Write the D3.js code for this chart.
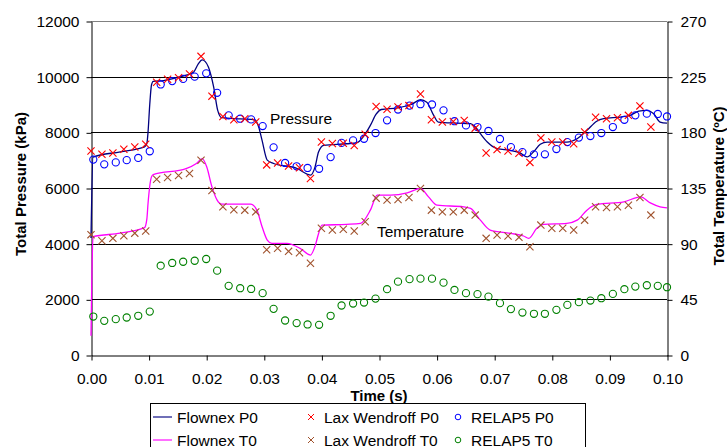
<!DOCTYPE html>
<html>
<head>
<meta charset="utf-8">
<script src="https://cdn.jsdelivr.net/npm/d3@7"></script>
<style>
  html, body { margin: 0; padding: 0; background: #fff; }
  svg { display: block; font-family: "Liberation Sans", Arial, sans-serif; }
</style>
</head>
<body>
<svg id="chart" width="727" height="447"></svg>
<script>
// ---- data ----------------------------------------------------------------
// Flownex solution (continuous curves)
const flownexP0Time = [0, 0.00035, 0.0051, 0.0093, 0.0097, 0.0099, 0.0102, 0.0105, 0.0108, 0.0126, 0.0155, 0.0178, 0.0186,
  0.0193, 0.0198, 0.0204, 0.0213, 0.0220, 0.0227, 0.0259, 0.0285, 0.0291, 0.0297, 0.0306, 0.0317, 0.0358,
  0.0375, 0.0381, 0.0389, 0.0395, 0.0404, 0.0444, 0.0462, 0.0473, 0.0485, 0.0495, 0.0504, 0.0532, 0.0556,
  0.0572, 0.0583, 0.0595, 0.0603, 0.0635, 0.0659, 0.0667, 0.0676, 0.0688, 0.0705, 0.0728, 0.0745, 0.0757,
  0.0768, 0.0780, 0.0792, 0.0826, 0.0844, 0.0861, 0.0878, 0.0890, 0.0919, 0.0936, 0.0951, 0.0965, 0.0977,
  0.0988, 0.1000];
const flownexP0 = [4200, 7110, 7300, 7480, 7600, 8000, 9000, 9700, 9830, 9860, 10000, 10160, 10450,
  10600, 10550, 10340, 9620, 8790, 8525, 8480, 8450, 8200, 7710, 7000, 6880, 6700,
  6500, 6460, 6760, 7290, 7530, 7590, 7630, 7850, 8250, 8650, 8820, 8880, 9000,
  9170, 9080, 8610, 8370, 8330, 8310, 8200, 7950, 7650, 7415, 7350, 7260, 7115,
  7290, 7570, 7650, 7650, 7770, 8070, 8400, 8490, 8550, 8610, 8760, 8790, 8670,
  8370, 8330];

const flownexT0Time = [0, 0.00014, 0.00035, 0.0051, 0.0093, 0.0097, 0.0099, 0.0105, 0.0108, 0.0165, 0.0183, 0.0193,
  0.0201, 0.0210, 0.0219, 0.0227, 0.0277, 0.0288, 0.0297, 0.0306, 0.0314, 0.0340, 0.0363, 0.0381, 0.0389,
  0.0395, 0.0401, 0.0444, 0.0468, 0.0485, 0.0497, 0.0520, 0.0549, 0.0572, 0.0586, 0.0601, 0.0647, 0.0659,
  0.0676, 0.0693, 0.0728, 0.0751, 0.0760, 0.0774, 0.0786, 0.0826, 0.0844, 0.0861, 0.0878, 0.0925, 0.0954,
  0.0971, 0.0988, 0.1000];
const flownexT0 = [15.5, 60, 95.6, 98.5, 102.9, 110, 122.5, 144, 145.9, 150.7, 154.8, 158.8,
  152, 135.9, 125.2, 121.9, 121.9, 117.1, 103.7, 92.9, 90.3, 90.3, 86.2, 80.8, 88,
  98, 105, 105.6, 106.4, 117.1, 129.2, 129.2, 131, 134.6, 127.8, 121.1, 119.8, 118.5,
  109, 101, 98.3, 96.2, 94.3, 102.4, 105.6, 106.4, 109, 117.1, 121.7, 123.8, 127.8,
  123, 119.8, 119];

// Lax Wendroff solution (discrete points)
const laxTime = [0.0000, 0.0019, 0.0038, 0.0057, 0.0076, 0.0095, 0.0114, 0.0133, 0.0152, 0.0171,
  0.0191, 0.0210, 0.0229, 0.0248, 0.0267, 0.0286, 0.0305, 0.0324, 0.0343, 0.0362,
  0.0381, 0.0400, 0.0419, 0.0438, 0.0457, 0.0476, 0.0495, 0.0514, 0.0533, 0.0552,
  0.0572, 0.0591, 0.0610, 0.0629, 0.0648, 0.0667, 0.0686, 0.0705, 0.0724, 0.0743,
  0.0762, 0.0781, 0.0800, 0.0819, 0.0838, 0.0857, 0.0876, 0.0895, 0.0914, 0.0933,
  0.0953, 0.0972];
const laxP0 = [7330, 7210, 7260, 7390, 7470, 7570, 9800, 9910, 9960, 10100,
  10730, 9300, 8570, 8450, 8490, 8370, 6830, 6900, 6790, 6730,
  6340, 7650, 7600, 7610, 7530, 7930, 8930, 8830, 8910, 8960,
  9380, 8450, 8370, 8390, 8430, 8150, 7260, 7380, 7330, 7250,
  6920, 7800, 7650, 7650, 7590, 8010, 8540, 8490, 8525, 8610,
  8950, 8190];
const laxT0 = [97.3, 92.4, 94.3, 96.4, 98.5, 100.3, 142.1, 143.5, 145.1, 146.7,
  157.4, 133.0, 119.8, 117.4, 117.1, 115.7, 85.1, 86.3, 83.8, 82.7,
  74.2, 102.4, 101.0, 101.6, 100.2, 107.7, 126.8, 125.2, 125.7, 127.3,
  134.6, 117.1, 115.7, 115.7, 117.1, 113.1, 94.3, 97.0, 96.2, 95.1,
  87.5, 105.0, 102.4, 102.4, 101.0, 109.0, 119.8, 119.3, 119.8, 121.1,
  127.3, 113.1];

// RELAP5 solution (discrete points)
const relapTime = [0.0004, 0.0023, 0.0043, 0.0062, 0.0082, 0.0102, 0.0121, 0.0141, 0.0160, 0.0180,
  0.0200, 0.0219, 0.0239, 0.0259, 0.0278, 0.0298, 0.0317, 0.0337, 0.0357, 0.0376,
  0.0396, 0.0416, 0.0435, 0.0455, 0.0474, 0.0494, 0.0514, 0.0533, 0.0553, 0.0572,
  0.0592, 0.0612, 0.0631, 0.0651, 0.0671, 0.0690, 0.0710, 0.0729, 0.0749, 0.0769,
  0.0788, 0.0808, 0.0827, 0.0847, 0.0867, 0.0886, 0.0906, 0.0926, 0.0945, 0.0965,
  0.0984, 0.1000];
const relapP0 = [7020, 6850, 6920, 7000, 7080, 7320, 9720, 9840, 9920, 10000,
  10120, 9420, 8610, 8490, 8465, 8225, 7460, 6900, 6780, 6720,
  6690, 7110, 7620, 7710, 7770, 7975, 8430, 8820, 8960, 9010,
  9000, 8790, 8400, 8250, 8190, 8050, 7760, 7470, 7290, 7210,
  7210, 7400, 7650, 7810, 7866, 7975, 8190, 8450, 8610, 8670,
  8660, 8570];
const relapT0 = [31.1, 27.6, 29.0, 30.3, 31.7, 35.1, 72.2, 74.4, 75.4, 76.2,
  77.6, 68.2, 55.9, 54.0, 53.4, 50.0, 37.3, 27.9, 25.8, 24.7,
  24.4, 31.7, 40.0, 41.6, 42.4, 45.6, 53.2, 59.3, 61.3, 61.7,
  61.7, 58.5, 52.6, 50.0, 49.2, 47.2, 41.9, 37.1, 34.3, 33.3,
  33.3, 36.5, 40.5, 42.7, 44.0, 45.9, 49.4, 53.2, 55.3, 56.4,
  55.9, 54.8];

// axis ticks
const timeTicks = [0, 0.01, 0.02, 0.03, 0.04, 0.05, 0.06, 0.07, 0.08, 0.09, 0.10];
const pressureTicks = [0, 2000, 4000, 6000, 8000, 10000, 12000];
const temperatureTicks = [0, 45, 90, 135, 180, 225, 270];

// legend entries
const legendItems = [
  { label: "Flownex P0", kind: "line", color: "#000080" },
  { label: "Lax Wendroff P0", kind: "cross", color: "#ff0000" },
  { label: "RELAP5 P0", kind: "circle", color: "#0000ff" },
  { label: "Flownex T0", kind: "line", color: "#ff00ff" },
  { label: "Lax Wendroff T0", kind: "cross", color: "#a0522d" },
  { label: "RELAP5 T0", kind: "circle", color: "#008000" }
];

// ---- layout ----------------------------------------------------------------
const svg = d3.select("#chart");
const plotLeft = 91, plotRight = 667, plotTop = 21, plotBottom = 355;
const FONT = 15.5;

const x = d3.scaleLinear().domain([0, 0.1]).range([plotLeft, plotRight]);
const yP = d3.scaleLinear().domain([0, 12000]).range([plotBottom, plotTop]);
const yT = d3.scaleLinear().domain([0, 270]).range([plotBottom, plotTop]);

// horizontal gridlines
svg.append("g").selectAll("line")
  .data(pressureTicks.filter(d => d > 0))
  .join("line")
  .attr("x1", plotLeft).attr("x2", plotRight)
  .attr("y1", d => Math.round(yP(d)) + 0.5)
  .attr("y2", d => Math.round(yP(d)) + 0.5)
  .attr("stroke", d => d === 12000 ? "#808080" : "#000")
  .attr("stroke-width", 1);

// axes
const styleAxis = g => {
  g.selectAll("path.domain").attr("stroke", "#000");
  g.selectAll(".tick line").attr("stroke", "#000");
  g.selectAll("text").attr("font-size", FONT).attr("fill", "#000")
    .attr("font-family", "'Liberation Sans', Arial, sans-serif");
};

svg.append("g")
  .attr("transform", `translate(${plotLeft + 0.5},0.5)`)
  .call(d3.axisLeft(yP).tickValues(pressureTicks).tickSize(5).tickSizeOuter(0).tickPadding(7)
    .tickFormat(d3.format("d")))
  .call(styleAxis);

svg.append("g")
  .attr("transform", `translate(${plotRight + 0.5},0.5)`)
  .call(d3.axisRight(yT).tickValues(temperatureTicks).tickSize(5).tickSizeOuter(0).tickPadding(8)
    .tickFormat(d3.format("d")))
  .call(styleAxis);

svg.append("g")
  .attr("transform", `translate(0.5,${plotBottom + 0.5})`)
  .call(d3.axisBottom(x).tickValues(timeTicks).tickSize(5).tickSizeOuter(0).tickPadding(12)
    .tickFormat(d3.format(".2f")))
  .call(styleAxis);

// axis titles
svg.append("text")
  .attr("transform", `translate(26,184) rotate(-90)`)
  .attr("text-anchor", "middle")
  .attr("font-size", 15).attr("font-weight", "bold")
  .text("Total Pressure (kPa)");

svg.append("text")
  .attr("transform", `translate(724,186) rotate(-90)`)
  .attr("text-anchor", "middle")
  .attr("font-size", 15).attr("font-weight", "bold")
  .text("Total Temperature (ºC)");

svg.append("text")
  .attr("x", (plotLeft + plotRight) / 2).attr("y", 400.5)
  .attr("text-anchor", "middle")
  .attr("font-size", 15).attr("font-weight", "bold")
  .text("Time (s)");

// in-plot annotations
svg.append("text").attr("x", 270).attr("y", 123.5)
  .attr("font-size", FONT).text("Pressure");
svg.append("text").attr("x", 377).attr("y", 237)
  .attr("font-size", FONT).text("Temperature");

// ---- series ----------------------------------------------------------------
const zip = (ts, vs) => ts.map((t, i) => ({ t, v: vs[i] }));

const crossPath = s => `M${-s},${-s}L${s},${s}M${-s},${s}L${s},${-s}`;

function drawLine(data, yScale, color) {
  svg.append("path")
    .datum(data)
    .attr("fill", "none")
    .attr("stroke", color)
    .attr("stroke-width", 1.3)
    .attr("d", d3.line().x(d => x(d.t)).y(d => yScale(d.v)).curve(d3.curveMonotoneX));
}
function drawCrosses(data, yScale, color) {
  svg.append("g").selectAll("path")
    .data(data).join("path")
    .attr("transform", d => `translate(${x(d.t)},${yScale(d.v)})`)
    .attr("d", crossPath(3.6))
    .attr("stroke", color).attr("stroke-width", 1.1).attr("fill", "none");
}
function drawCircles(data, yScale, color) {
  svg.append("g").selectAll("circle")
    .data(data).join("circle")
    .attr("cx", d => x(d.t)).attr("cy", d => yScale(d.v))
    .attr("r", 3.6)
    .attr("stroke", color).attr("stroke-width", 1.1).attr("fill", "none");
}

drawLine(zip(flownexT0Time, flownexT0), yT, "#ff00ff");
drawLine(zip(flownexP0Time, flownexP0), yP, "#000080");
drawCircles(zip(relapTime, relapT0), yT, "#008000");
drawCrosses(zip(laxTime, laxT0), yT, "#a0522d");
drawCircles(zip(relapTime, relapP0), yP, "#0000ff");
drawCrosses(zip(laxTime, laxP0), yP, "#ff0000");

// ---- legend ----------------------------------------------------------------
const legend = svg.append("g");
legend.append("rect")
  .attr("x", 150.5).attr("y", 403.5).attr("width", 435).attr("height", 60)
  .attr("fill", "#fff").attr("stroke", "#000").attr("stroke-width", 1);

const colX = [153, 311, 458];
const rowY = [417, 440];
legendItems.forEach((item, i) => {
  const col = i % 3, row = Math.floor(i / 3);
  const cy = rowY[row];
  const g = legend.append("g");
  if (item.kind === "line") {
    g.append("line").attr("x1", colX[col]).attr("x2", colX[col] + 19)
      .attr("y1", cy).attr("y2", cy)
      .attr("stroke", item.color).attr("stroke-width", 1.5).attr("opacity", 0.75);
    g.append("text").attr("x", colX[col] + 24).attr("y", cy + 5.5)
      .attr("font-size", FONT).text(item.label);
  } else {
    if (item.kind === "cross") {
      g.append("path").attr("transform", `translate(${colX[col]},${cy})`)
        .attr("d", crossPath(3)).attr("stroke", item.color).attr("stroke-width", 1).attr("fill", "none");
    } else {
      g.append("circle").attr("cx", colX[col]).attr("cy", cy).attr("r", 2.8)
        .attr("stroke", item.color).attr("stroke-width", 1).attr("fill", "none");
    }
    g.append("text").attr("x", colX[col] + 13).attr("y", cy + 5.5)
      .attr("font-size", FONT).text(item.label);
  }
});
</script>
</body>
</html>
